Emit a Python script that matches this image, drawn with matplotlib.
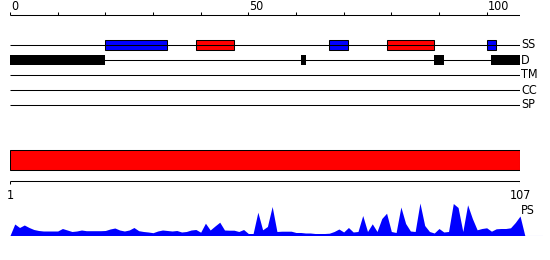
import matplotlib

matplotlib.use("Agg")
import matplotlib.pyplot as plt

W, H = 550, 260
LW = 0.75
FONT = dict(family="DejaVu Sans", stretch="condensed", fontsize=9)

seq_len = 107
scale_ticks = list(range(0, 101, 10))
scale_labels = [0, 50, 100]

track_names = ["SS", "D", "TM", "CC", "SP"]

ss_starts = [20, 39, 67, 79, 100]
ss_ends = [33, 47, 71, 89, 102]
ss_colors = ["#0000ff", "#ff0000", "#0000ff", "#ff0000", "#0000ff"]

d_starts = [0, 61, 89, 101]
d_ends = [20, 62, 91, 107]

ps_values = [
    11.5, 8, 10.5, 8, 6, 5, 4.5, 4.5, 4.5, 4.5,
    7, 5.5, 4, 4.5, 5.5, 4.8, 4.8, 4.8, 4.8, 5,
    6.5, 7.5, 5.5, 4.5, 5.5, 8, 4.8, 4, 3.5, 2.8,
    4.5, 5.5, 5, 4.5, 5, 3.5, 4, 5.5, 6, 3.3,
    12.3, 5.5, 9.5, 13.3, 5.5, 5.3, 5.3, 4, 6, 2,
    2, 23.3, 5.7, 9, 29, 4, 4.3, 4.3, 4.3, 3,
    3, 2.5, 2.5, 2, 2, 2, 2.3, 4, 6.5, 3.5,
    8, 3.5, 4, 20, 4, 11.7, 4, 17, 22.3, 4,
    3, 28.5, 12, 4.5, 4, 32.5, 10, 4, 2.5, 7,
    3.5, 4, 32, 28, 4, 30.7, 17, 5.7, 7, 7.7,
    4.3, 6.7, 7, 7, 7.7, 13, 19.5,
]


def px_axes(fig, x0, y0, x1, y1):
    ax = fig.add_axes([x0 / W, 1 - y1 / H, (x1 - x0) / W, (y1 - y0) / H])
    ax.set_axis_off()
    return ax


fig = plt.figure(figsize=(W / 100, H / 100), dpi=100)

# feature tracks with the top ruler
unit = 4.7667
ax = px_axes(fig, 10, 0, 10 + seq_len * unit, 112)
ax.set_xlim(0, seq_len)
ax.set_ylim(112, 0)

ax.hlines(15, 0, seq_len, color="black", lw=LW)
ax.vlines(scale_ticks, 11.5, 15, color="black", lw=LW)
for t in scale_labels:
    ax.text(t + 0.2, 10.5, str(t), ha="left", va="baseline", **FONT)

track_y = {name: 45 + 15 * i for i, name in enumerate(track_names)}
for name, y in track_y.items():
    ax.hlines(y, 0, seq_len, color="black", lw=LW)
    ax.text(seq_len + 0.2, y, name, ha="left", va="center", clip_on=False, **FONT)

ax.barh(
    track_y["SS"],
    [e - s for s, e in zip(ss_starts, ss_ends)],
    left=ss_starts,
    height=10,
    color=ss_colors,
    edgecolor="black",
    lw=LW,
)
ax.barh(
    track_y["D"],
    [e - s for s, e in zip(d_starts, d_ends)],
    left=d_starts,
    height=10.5,
    color="black",
    edgecolor="black",
    lw=0,
)

# full-length bar with its ruler
ax2 = px_axes(fig, 10, 140, 520, 200)
ax2.set_xlim(1, seq_len)
ax2.set_ylim(200, 140)
ax2.barh(160, seq_len - 1, left=1, height=20, color="#ff0000", edgecolor="black", lw=LW)
ax2.hlines(180.5, 1, seq_len, color="black", lw=LW)
ax2.vlines([1, seq_len], 180.5, 184, color="black", lw=LW)
ax2.text(1, 195.5, "1", ha="center", va="center", **FONT)
ax2.text(seq_len, 195.5, str(seq_len), ha="center", va="center", **FONT)

# PS profile
ax3 = px_axes(fig, 10, 195.5, 543, 235.5)
ax3.set_xlim(0, 533 / unit)
ax3.set_ylim(0, 40)
ps_x = list(range(0, seq_len + 2))
ps_y = [0] + ps_values + [0]
ax3.fill_between(ps_x, 0, ps_y, color="#0000ff", lw=0)
ax3.axhline(0, color="#0000ff", lw=LW)
ax3.text(seq_len + 0.2, 25, "PS", ha="left", va="center", clip_on=False, **FONT)

fig.savefig("out.png", dpi=100)
